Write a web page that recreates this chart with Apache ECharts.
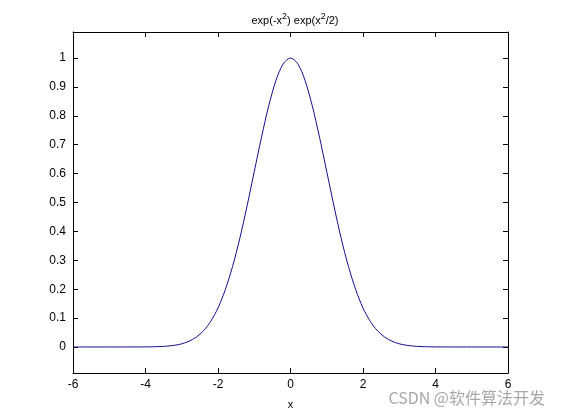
<!DOCTYPE html>
<html>
<head>
<meta charset="utf-8">
<script src="https://cdn.jsdelivr.net/npm/echarts@6/dist/echarts.min.js"></script>
<style>html,body{margin:0;padding:0;background:#fff}#c{width:561px;height:420px}</style>
</head>
<body>
<div id="c"></div>
<script>
var xValues = [-6, -5, -4.4, -4, -3.8, -3.6, -3.4, -3.2, -3, -2.8, -2.6, -2.4, -2.2, -2, -1.8, -1.6, -1.4, -1.2, -1, -0.8, -0.6, -0.4, -0.2, 0,
  0.2, 0.4, 0.6, 0.8, 1, 1.2, 1.4, 1.6, 1.8, 2, 2.2, 2.4, 2.6, 2.8, 3, 3.2, 3.4, 3.6, 3.8, 4, 4.4, 5, 6];
var yValues = [0, 0, 0.0001, 0.0003, 0.0007, 0.0015, 0.003, 0.006, 0.011, 0.020, 0.034, 0.056, 0.089, 0.135, 0.198, 0.278, 0.375, 0.487, 0.607, 0.726, 0.835, 0.923, 0.980, 1,
  0.980, 0.923, 0.835, 0.726, 0.607, 0.487, 0.375, 0.278, 0.198, 0.135, 0.089, 0.056, 0.034, 0.020, 0.011, 0.006, 0.003, 0.0015, 0.0007, 0.0003, 0.0001, 0, 0];
var xTicks = [-6, -4, -2, 0, 2, 4, 6];
var yTicks = [0, 0.1, 0.2, 0.3, 0.4, 0.5, 0.6, 0.7, 0.8, 0.9, 1];

var points = xValues.map(function (x, i) { return [x, yValues[i]]; });
var font = 'Liberation Sans, Arial, sans-serif';
var chart = echarts.init(document.getElementById('c'), null, {renderer: 'canvas'});
var lineStyle = {color: '#000', width: 1};
function xAxisCfg(show, pos) {
  return {
    type: 'value', position: pos, min: -6, max: 6,
    axisLine: {show: true, onZero: false, lineStyle: lineStyle},
    axisTick: {show: true, inside: true, length: 5, lineStyle: lineStyle, customValues: xTicks},
    axisLabel: {show: show, color: '#000', fontSize: 12, fontFamily: font, margin: 6, customValues: xTicks},
    splitLine: {show: false},
    name: show ? 'x' : '', nameLocation: 'middle', nameGap: 26,
    nameTextStyle: {color: '#000', fontSize: 11, fontFamily: font}
  };
}
function yAxisCfg(show, pos) {
  return {
    type: 'value', position: pos, min: -0.09, max: 1.09,
    axisLine: {show: true, onZero: false, lineStyle: lineStyle},
    axisTick: {show: true, inside: true, length: 5, lineStyle: lineStyle, customValues: yTicks},
    axisLabel: {show: show, color: '#000', fontSize: 12, fontFamily: font, margin: 7, customValues: yTicks},
    splitLine: {show: false}
  };
}
chart.setOption({
  backgroundColor: '#fff',
  animation: false,
  title: {
    text: 'exp(-x{s|2}) exp(x{s|2}/2)',
    left: 290, top: 7, textAlign: 'center',
    textStyle: {
      fontSize: 11, fontWeight: 'normal', color: '#000', fontFamily: font,
      rich: {s: {fontSize: 9, verticalAlign: 'top', padding: [0, 0, 8, 0], fontFamily: font, color: '#000'}}
    }
  },
  grid: {left: 73, right: 53, top: 32, bottom: 47, containLabel: false},
  xAxis: [xAxisCfg(true, 'bottom'), xAxisCfg(false, 'top')],
  yAxis: [yAxisCfg(true, 'left'), yAxisCfg(false, 'right')],
  series: [{
    type: 'line', data: points, showSymbol: false, smooth: 0.3,
    lineStyle: {color: '#10108c', width: 1}
  }],
  graphic: [{
    type: 'text', right: 16, top: 390,
    style: {text: 'CSDN @软件算法开发', fill: 'rgba(150,150,150,0.85)', fontSize: 16, fontFamily: 'Noto Sans CJK SC, sans-serif'}
  }]
});
</script>
</body>
</html>
